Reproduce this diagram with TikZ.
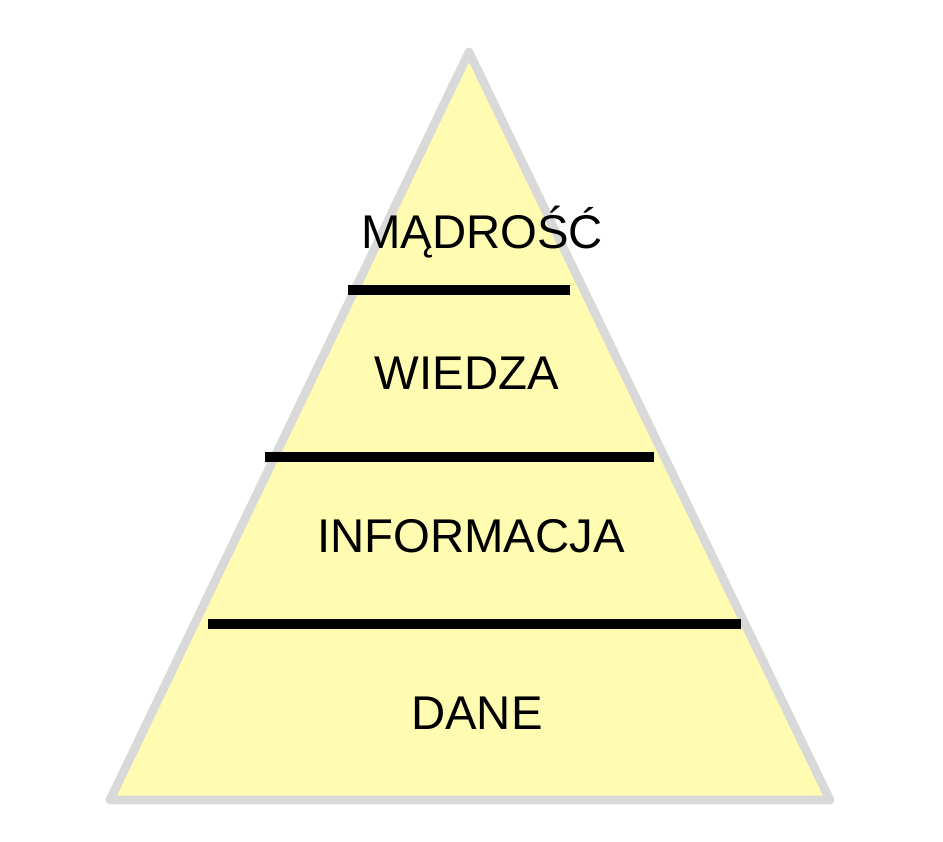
\documentclass[tikz,border=0pt]{standalone}
\usepackage{fontspec}
\setmainfont{Liberation Sans}
\definecolor{pyrfill}{HTML}{FFFCB2}
\definecolor{pyredge}{HTML}{D9D9D9}
\definecolor{pyrink}{HTML}{000000}
\tikzset{
  pyrshape/.style={
    draw=pyredge, fill=pyrfill, line width=6.5pt, line join=round},
  pyrbar/.style={draw=pyrink, line width=7.5pt},
  pyrlabel/.style={
    anchor=base, inner sep=0pt, text=pyrink,
    font=\fontsize{35.5}{42}\selectfont},
}

\begin{document}
\begin{tikzpicture}[x=0.75pt, y=-0.75pt]

% Canvas, in pixels of the reference.
\useasboundingbox (0, 0) rectangle (943, 842);

% The pyramid.
\coordinate (apex) at (469, 52);
\coordinate (baseL) at (110, 800);
\coordinate (baseR) at (830, 800);
\draw[pyrshape] (apex) -- (baseR) -- (baseL) -- cycle;

% Bars between the levels.
\foreach \n/\y/\lo/\hi in {top/290/348/570, mid/457/265/654, low/624/208/741} {
  \coordinate (\n L) at (\lo, \y);
  \coordinate (\n R) at (\hi, \y);
  \draw[pyrbar] (\n L) -- (\n R);
}

% Level names, top to bottom.
\node[pyrlabel] (wisdom) at (482, 248) {MĄDROŚĆ};
\node[pyrlabel] (knowledge) at (467, 389) {WIEDZA};
\node[pyrlabel] (information) at (471, 552) {INFORMACJA};
\node[pyrlabel] (data) at (477, 729) {DANE};

\end{tikzpicture}
\end{document}
